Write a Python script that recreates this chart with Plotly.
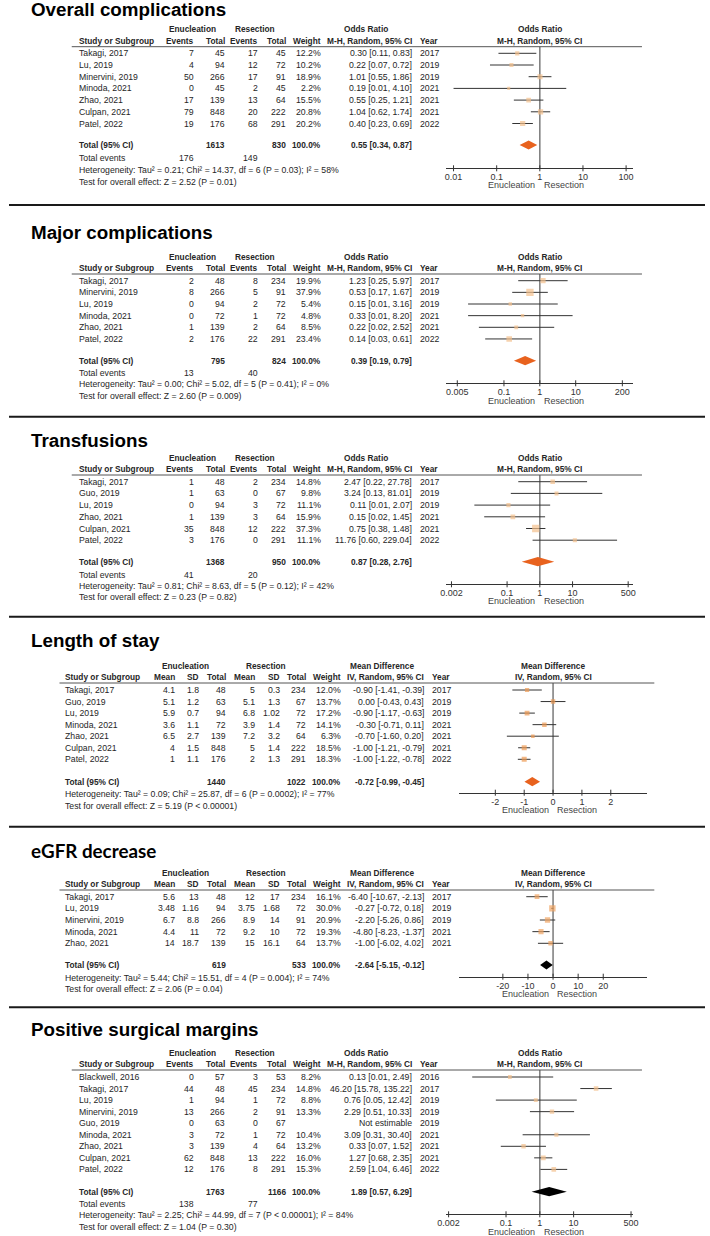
import math
import plotly.graph_objects as go

W, H = 710, 1236
FONT = "Liberation Sans, Arial, sans-serif"

# ---------------- DATA ----------------
# Panel 1: Overall complications (Odds Ratio)
oc_study = ["Takagi, 2017", "Lu, 2019", "Minervini, 2019", "Minoda, 2021", "Zhao, 2021", "Culpan, 2021", "Patel, 2022"]
oc_enu_events = [7, 4, 50, 0, 17, 79, 19]
oc_enu_total = [45, 94, 266, 45, 139, 848, 176]
oc_res_events = [17, 12, 17, 2, 13, 20, 68]
oc_res_total = [45, 72, 91, 45, 64, 222, 291]
oc_weight = [12.2, 10.2, 18.9, 2.2, 15.5, 20.8, 20.2]
oc_est = [0.30, 0.22, 1.01, 0.19, 0.55, 1.04, 0.40]
oc_lo = [0.11, 0.07, 0.55, 0.01, 0.25, 0.62, 0.23]
oc_hi = [0.83, 0.72, 1.86, 4.10, 1.21, 1.74, 0.69]
oc_year = [2017, 2019, 2019, 2021, 2021, 2021, 2022]
oc_total = [1613, 830]
oc_events_sum = [176, 149]
oc_pooled = [0.55, 0.34, 0.87]
oc_het = "Heterogeneity: Tau² = 0.21; Chi² = 14.37, df = 6 (P = 0.03); I² = 58%"
oc_test = "Test for overall effect: Z = 2.52 (P = 0.01)"
oc_ticks = [0.01, 0.1, 1, 10, 100]
oc_ticklabels = ["0.01", "0.1", "1", "10", "100"]

# Panel 2: Major complications
mc_study = ["Takagi, 2017", "Minervini, 2019", "Lu, 2019", "Minoda, 2021", "Zhao, 2021", "Patel, 2022"]
mc_enu_events = [2, 8, 0, 0, 1, 2]
mc_enu_total = [48, 266, 94, 72, 139, 176]
mc_res_events = [8, 5, 2, 1, 2, 22]
mc_res_total = [234, 91, 72, 72, 64, 291]
mc_weight = [19.9, 37.9, 5.4, 4.8, 8.5, 23.4]
mc_est = [1.23, 0.53, 0.15, 0.33, 0.22, 0.14]
mc_lo = [0.25, 0.17, 0.01, 0.01, 0.02, 0.03]
mc_hi = [5.97, 1.67, 3.16, 8.20, 2.52, 0.61]
mc_year = [2017, 2019, 2019, 2021, 2021, 2022]
mc_total = [795, 824]
mc_events_sum = [13, 40]
mc_pooled = [0.39, 0.19, 0.79]
mc_het = "Heterogeneity: Tau² = 0.00; Chi² = 5.02, df = 5 (P = 0.41); I² = 0%"
mc_test = "Test for overall effect: Z = 2.60 (P = 0.009)"
mc_ticks = [0.005, 0.1, 1, 10, 200]
mc_ticklabels = ["0.005", "0.1", "1", "10", "200"]

# Panel 3: Transfusions
tr_study = ["Takagi, 2017", "Guo, 2019", "Lu, 2019", "Zhao, 2021", "Culpan, 2021", "Patel, 2022"]
tr_enu_events = [1, 1, 0, 1, 35, 3]
tr_enu_total = [48, 63, 94, 139, 848, 176]
tr_res_events = [2, 0, 3, 3, 12, 0]
tr_res_total = [234, 67, 72, 64, 222, 291]
tr_weight = [14.8, 9.8, 11.1, 15.9, 37.3, 11.1]
tr_est = [2.47, 3.24, 0.11, 0.15, 0.75, 11.76]
tr_lo = [0.22, 0.13, 0.01, 0.02, 0.38, 0.60]
tr_hi = [27.78, 81.01, 2.07, 1.45, 1.48, 229.04]
tr_year = [2017, 2019, 2019, 2021, 2021, 2022]
tr_total = [1368, 950]
tr_events_sum = [41, 20]
tr_pooled = [0.87, 0.28, 2.76]
tr_het = "Heterogeneity: Tau² = 0.81; Chi² = 8.63, df = 5 (P = 0.12); I² = 42%"
tr_test = "Test for overall effect: Z = 0.23 (P = 0.82)"
tr_ticks = [0.002, 0.1, 1, 10, 500]
tr_ticklabels = ["0.002", "0.1", "1", "10", "500"]

# Panel 4: Length of stay (Mean Difference)
los_study = ["Takagi, 2017", "Guo, 2019", "Lu, 2019", "Minoda, 2021", "Zhao, 2021", "Culpan, 2021", "Patel, 2022"]
los_enu_mean = [4.1, 5.1, 5.9, 3.6, 6.5, 4, 1]
los_enu_sd = [1.8, 1.2, 0.7, 1.1, 2.7, 1.5, 1.1]
los_enu_total = [48, 63, 94, 72, 139, 848, 176]
los_res_mean = [5, 5.1, 6.8, 3.9, 7.2, 5, 2]
los_res_sd = [0.3, 1.3, 1.02, 1.4, 3.2, 1.4, 1.3]
los_res_total = [234, 67, 72, 72, 64, 222, 291]
los_weight = [12.0, 13.7, 17.2, 14.1, 6.3, 18.5, 18.3]
los_est = [-0.90, 0.00, -0.90, -0.30, -0.70, -1.00, -1.00]
los_lo = [-1.41, -0.43, -1.17, -0.71, -1.60, -1.21, -1.22]
los_hi = [-0.39, 0.43, -0.63, 0.11, 0.20, -0.79, -0.78]
los_year = [2017, 2019, 2019, 2021, 2021, 2021, 2022]
los_total = [1440, 1022]
los_pooled = [-0.72, -0.99, -0.45]
los_het = "Heterogeneity: Tau² = 0.09; Chi² = 25.87, df = 6 (P = 0.0002); I² = 77%"
los_test = "Test for overall effect: Z = 5.19 (P < 0.00001)"
los_ticks = [-2, -1, 0, 1, 2]
los_ticklabels = ["-2", "-1", "0", "1", "2"]

# Panel 5: eGFR decrease
eg_study = ["Takagi, 2017", "Lu, 2019", "Minervini, 2019", "Minoda, 2021", "Zhao, 2021"]
eg_enu_mean = [5.6, 3.48, 6.7, 4.4, 14]
eg_enu_sd = [13, 1.16, 8.8, 11, 18.7]
eg_enu_total = [48, 94, 266, 72, 139]
eg_res_mean = [12, 3.75, 8.9, 9.2, 15]
eg_res_sd = [17, 1.68, 14, 10, 16.1]
eg_res_total = [234, 72, 91, 72, 64]
eg_weight = [16.1, 30.0, 20.9, 19.3, 13.7]
eg_est = [-6.40, -0.27, -2.20, -4.80, -1.00]
eg_lo = [-10.67, -0.72, -5.26, -8.23, -6.02]
eg_hi = [-2.13, 0.18, 0.86, -1.37, 4.02]
eg_year = [2017, 2019, 2019, 2021, 2021]
eg_total = [619, 533]
eg_pooled = [-2.64, -5.15, -0.12]
eg_het = "Heterogeneity: Tau² = 5.44; Chi² = 15.51, df = 4 (P = 0.004); I² = 74%"
eg_test = "Test for overall effect: Z = 2.06 (P = 0.04)"
eg_ticks = [-20, -10, 0, 10, 20]
eg_ticklabels = ["-20", "-10", "0", "10", "20"]

# Panel 6: Positive surgical margins
psm_study = ["Blackwell, 2016", "Takagi, 2017", "Lu, 2019", "Minervini, 2019", "Guo, 2019", "Minoda, 2021", "Zhao, 2021", "Culpan, 2021", "Patel, 2022"]
psm_enu_events = [0, 44, 1, 13, 0, 3, 3, 62, 12]
psm_enu_total = [57, 48, 94, 266, 63, 72, 139, 848, 176]
psm_res_events = [3, 45, 1, 2, 0, 1, 4, 13, 8]
psm_res_total = [53, 234, 72, 91, 67, 72, 64, 222, 291]
psm_weight = [8.2, 14.8, 8.8, 13.3, None, 10.4, 13.2, 16.0, 15.3]
psm_est = [0.13, 46.20, 0.76, 2.29, None, 3.09, 0.33, 1.27, 2.59]
psm_lo = [0.01, 15.78, 0.05, 0.51, None, 0.31, 0.07, 0.68, 1.04]
psm_hi = [2.49, 135.22, 12.42, 10.33, None, 30.40, 1.52, 2.35, 6.46]
psm_year = [2016, 2017, 2019, 2019, 2019, 2021, 2021, 2021, 2022]
psm_total = [1763, 1166]
psm_events_sum = [138, 77]
psm_pooled = [1.89, 0.57, 6.29]
psm_het = "Heterogeneity: Tau² = 2.25; Chi² = 44.99, df = 7 (P < 0.00001); I² = 84%"
psm_test = "Test for overall effect: Z = 1.04 (P = 0.30)"
psm_ticks = [0.002, 0.1, 1, 10, 500]
psm_ticklabels = ["0.002", "0.1", "1", "10", "500"]

# ---------------- STYLE / LAYOUT (pixels) ----------------
ORANGE_LIGHT = "#F3C18D"
ORANGE_MID = "#EE9A52"
ORANGE_DIAMOND = "#E8621E"
TXT = "#262626"
FS = 8.7      # regular table text
FSB = 8.3     # bold table text

panels = [
    dict(kind="or", title="Overall complications", study=oc_study,
         cols=[oc_enu_events, oc_enu_total, oc_res_events, oc_res_total],
         weight=oc_weight, est=oc_est, lo=oc_lo, hi=oc_hi, year=oc_year,
         total=oc_total, events=oc_events_sum, pooled=oc_pooled, het=oc_het, test=oc_test,
         ticks=oc_ticks, ticklabels=oc_ticklabels, half=2.17,
         y_title=10, y_h1=29.3, y_h2=41, y_hline=46.7, y_row0=53.3, step=11.7,
         y_total=145, y_events=158.3, y_het=170, y_test=182, y_axis=168.3,
         sq=ORANGE_LIGHT, dia=ORANGE_DIAMOND),
    dict(kind="or", title="Major complications", study=mc_study,
         cols=[mc_enu_events, mc_enu_total, mc_res_events, mc_res_total],
         weight=mc_weight, est=mc_est, lo=mc_lo, hi=mc_hi, year=mc_year,
         total=mc_total, events=mc_events_sum, pooled=mc_pooled, het=mc_het, test=mc_test,
         ticks=mc_ticks, ticklabels=mc_ticklabels, half=2.61,
         y_title=232.3, y_h1=256.7, y_h2=268.3, y_hline=274, y_row0=280.7, step=11.65,
         y_total=360.7, y_events=373.3, y_het=384.3, y_test=396, y_axis=383.3,
         sq=ORANGE_LIGHT, dia=ORANGE_DIAMOND),
    dict(kind="or", title="Transfusions", study=tr_study,
         cols=[tr_enu_events, tr_enu_total, tr_res_events, tr_res_total],
         weight=tr_weight, est=tr_est, lo=tr_lo, hi=tr_hi, year=tr_year,
         total=tr_total, events=tr_events_sum, pooled=tr_pooled, het=tr_het, test=tr_test,
         ticks=tr_ticks, ticklabels=tr_ticklabels, half=2.86,
         y_title=440.7, y_h1=457.7, y_h2=469.3, y_hline=475, y_row0=481.7, step=11.7,
         y_total=561.7, y_events=574.7, y_het=585.7, y_test=596.7, y_axis=584.3,
         sq=ORANGE_LIGHT, dia=ORANGE_DIAMOND),
    dict(kind="md", title="Length of stay", study=los_study,
         cols=[los_enu_mean, los_enu_sd, los_enu_total, los_res_mean, los_res_sd, los_res_total],
         weight=los_weight, est=los_est, lo=los_lo, hi=los_hi, year=los_year,
         total=los_total, events=None, pooled=los_pooled, het=los_het, test=los_test,
         ticks=los_ticks, ticklabels=los_ticklabels, half=3.26,
         y_title=640, y_h1=665.7, y_h2=677.3, y_hline=683, y_row0=690, step=11.55,
         y_total=781.7, y_events=None, y_het=794.3, y_test=806, y_axis=792.7,
         sq=ORANGE_MID, dia=ORANGE_DIAMOND),
    dict(kind="md", title="eGFR decrease", study=eg_study,
         cols=[eg_enu_mean, eg_enu_sd, eg_enu_total, eg_res_mean, eg_res_sd, eg_res_total],
         weight=eg_weight, est=eg_est, lo=eg_lo, hi=eg_hi, year=eg_year,
         total=eg_total, events=None, pooled=eg_pooled, het=eg_het, test=eg_test,
         ticks=eg_ticks, ticklabels=eg_ticklabels, half=37.5,
         y_title=850, y_h1=872.7, y_h2=884.3, y_hline=890, y_row0=896.7, step=11.65,
         y_total=965, y_events=None, y_het=978.3, y_test=989.3, y_axis=976.7,
         sq="#F0A463", dia="#000000", title_font="Lato, Noto Sans, sans-serif"),
    dict(kind="or", title="Positive surgical margins", study=psm_study,
         cols=[psm_enu_events, psm_enu_total, psm_res_events, psm_res_total],
         weight=psm_weight, est=psm_est, lo=psm_lo, hi=psm_hi, year=psm_year,
         total=psm_total, events=psm_events_sum, pooled=psm_pooled, het=psm_het, test=psm_test,
         ticks=psm_ticks, ticklabels=psm_ticklabels, half=2.77,
         y_title=1029, y_h1=1052.7, y_h2=1064, y_hline=1070, y_row0=1077, step=11.55,
         y_total=1191.7, y_events=1204.3, y_het=1215.3, y_test=1226.7, y_axis=1214.3,
         sq=ORANGE_LIGHT, dia="#000000"),
]

separators = [205, 416.7, 616.7, 826.7, 1007.3]

LAYOUT_OR = dict(study=71.7, cols=[188.7, 220, 254.3, 282.3], weight=318.3, ci=411, year=419,
                 grp=[186.7, 251.2], eff_h1=364, line=(64, 645.7), dom=(446, 637),
                 colnames=["Events", "Total", "Events", "Total"], h1="Odds Ratio",
                 h2="M-H, Random, 95% CI")
LAYOUT_MD = dict(study=57.5, cols=[169, 194.3, 221, 250.7, 276, 303.3], weight=338.7, ci=423.3,
                 year=431.7, grp=[180.5, 262], eff_h1=380.5, line=(51.5, 658.3), dom=(459, 651),
                 colnames=["Mean", "SD", "Total", "Mean", "SD", "Total"], h1="Mean Difference",
                 h2="IV, Random, 95% CI")

annotations = []
shapes = []


def px(x):
    return x / W


def py(y):
    return 1 - y / H


def txt(x, y, s, anchor="left", bold=False, size=None, color=TXT, family=FONT):
    if size is None:
        size = FSB if bold else FS
    annotations.append(dict(
        x=px(x), y=py(y), xref="paper", yref="paper",
        text=("<b>%s</b>" % s) if bold else s, showarrow=False,
        xanchor=anchor, yanchor="middle", borderpad=0, borderwidth=0,
        font=dict(size=size, color=color, family=family)))


def fmt(v):
    return "%g" % v


fig = go.Figure()
layout_axes = {}

for i, p in enumerate(panels):
    L = LAYOUT_OR if p["kind"] == "or" else LAYOUT_MD
    axname = "x" if i == 0 else "x%d" % (i + 1)
    axkey = "xaxis" if i == 0 else "xaxis%d" % (i + 1)
    is_log = p["kind"] == "or"
    null_val = 1 if is_log else 0
    null_px = (L["dom"][0] + L["dom"][1]) / 2

    # title
    txt(22.5, p["y_title"], p["title"], bold=True, size=18.8,
        color="#000000", family=p.get("title_font", FONT))

    # headers
    txt(L["grp"][0], p["y_h1"], "Enucleation", anchor="center", bold=True)
    txt(L["grp"][1], p["y_h1"], "Resection", anchor="center", bold=True)
    txt(L["eff_h1"], p["y_h1"], L["h1"], anchor="center", bold=True)
    txt(null_px, p["y_h1"], L["h1"], anchor="center", bold=True)
    txt(L["study"], p["y_h2"], "Study or Subgroup", bold=True)
    for cx, cn in zip(L["cols"], L["colnames"]):
        txt(cx, p["y_h2"], cn, anchor="right", bold=True)
    txt(L["weight"], p["y_h2"], "Weight", anchor="right", bold=True)
    txt(L["ci"], p["y_h2"], L["h2"], anchor="right", bold=True)
    txt(L["year"], p["y_h2"], "Year", bold=True)
    txt(null_px, p["y_h2"], L["h2"], anchor="center", bold=True)
    shapes.append(dict(type="line", xref="paper", yref="paper",
                       x0=px(L["line"][0]), x1=px(L["line"][1]),
                       y0=py(p["y_hline"]), y1=py(p["y_hline"]),
                       line=dict(color="#555555", width=1)))

    # study rows
    ys = []
    for r, name in enumerate(p["study"]):
        y = p["y_row0"] + r * p["step"]
        ys.append(y)
        txt(L["study"], y, name)
        for cx, col in zip(L["cols"], p["cols"]):
            txt(cx, y, fmt(col[r]), anchor="right")
        w = p["weight"][r]
        if w is not None:
            txt(L["weight"], y, "%.1f%%" % w, anchor="right")
            txt(L["ci"], y, "%.2f [%.2f, %.2f]" % (p["est"][r], p["lo"][r], p["hi"][r]), anchor="right")
        else:
            txt(L["ci"], y, "Not estimable", anchor="right")
        txt(L["year"], y, str(p["year"][r]))

    # totals
    txt(L["study"], p["y_total"], "Total (95% CI)", bold=True)
    tot_cols = [L["cols"][1], L["cols"][3]] if p["kind"] == "or" else [L["cols"][2], L["cols"][5]]
    txt(tot_cols[0], p["y_total"], str(p["total"][0]), anchor="right", bold=True)
    txt(tot_cols[1], p["y_total"], str(p["total"][1]), anchor="right", bold=True)
    txt(L["weight"], p["y_total"], "100.0%", anchor="right", bold=True)
    pe, pl, ph = p["pooled"]
    txt(L["ci"], p["y_total"], "%.2f [%.2f, %.2f]" % (pe, pl, ph), anchor="right", bold=True)
    if p["events"] is not None:
        txt(L["study"], p["y_events"], "Total events")
        txt(L["cols"][0], p["y_events"], str(p["events"][0]), anchor="right")
        txt(L["cols"][2], p["y_events"], str(p["events"][1]), anchor="right")
    txt(L["study"], p["y_het"], p["het"])
    txt(L["study"], p["y_test"], p["test"])

    # favours labels
    txt(null_px - 4.5, p["y_axis"] + 17.2, "Enucleation", anchor="right", size=9, color="#444444")
    txt(null_px + 4, p["y_axis"] + 17.2, "Resection", anchor="left", size=9, color="#444444")

    # forest traces
    fig.add_trace(go.Scatter(x=[null_val, null_val], y=[p["y_hline"], p["y_axis"]], mode="lines",
                             line=dict(color="#7a7a7a", width=1.5), xaxis=axname, yaxis="y",
                             hoverinfo="skip", showlegend=False))
    # tick marks crossing the axis line (RevMan style)
    tx, ty = [], []
    for t in p["ticks"]:
        tx += [t, t, None]
        ty += [p["y_axis"] - 3, p["y_axis"] + 3, None]
    fig.add_trace(go.Scatter(x=tx, y=ty, mode="lines", line=dict(color="#333333", width=1),
                             xaxis=axname, yaxis="y", hoverinfo="skip", showlegend=False,
                             cliponaxis=False))
    lx, ly, mx, my, ms = [], [], [], [], []
    for r in range(len(p["study"])):
        if p["est"][r] is None:
            continue
        lx += [p["lo"][r], p["hi"][r], None]
        ly += [ys[r], ys[r], None]
        mx.append(p["est"][r])
        my.append(ys[r])
        ms.append(2.8 + 0.12 * p["weight"][r])
    fig.add_trace(go.Scatter(x=lx, y=ly, mode="lines", line=dict(color="#333333", width=1),
                             xaxis=axname, yaxis="y", hoverinfo="skip", showlegend=False))
    fig.add_trace(go.Scatter(x=mx, y=my, mode="markers",
                             marker=dict(symbol="square", size=ms, color=p["sq"], line=dict(width=0)),
                             xaxis=axname, yaxis="y", showlegend=False))
    hdia = 4.6
    yt = p["y_total"]
    fig.add_trace(go.Scatter(x=[pl, pe, ph, pe, pl], y=[yt, yt - hdia, yt, yt + hdia, yt],
                             mode="lines", fill="toself", fillcolor=p["dia"],
                             line=dict(width=0, color=p["dia"]),
                             xaxis=axname, yaxis="y", hoverinfo="skip", showlegend=False))

    if is_log:
        c = math.log10(null_val)
        rng = [c - p["half"], c + p["half"]]
    else:
        rng = [-p["half"], p["half"]]
    layout_axes[axkey] = dict(
        domain=[px(L["dom"][0]), px(L["dom"][1])], anchor="free", position=py(p["y_axis"]),
        type="log" if is_log else "linear", range=rng,
        tickvals=p["ticks"], ticktext=p["ticklabels"],
        showline=True, linecolor="#333333", linewidth=1,
        ticks="", ticklabelstandoff=0,
        showgrid=False, zeroline=False, fixedrange=True,
        tickfont=dict(size=9, color="#333333", family=FONT))

for s in separators:
    shapes.append(dict(type="line", xref="paper", yref="paper", x0=0, x1=1, y0=py(s), y1=py(s),
                       line=dict(color="#1a1a1a", width=2)))

fig.update_layout(
    width=W, height=H, autosize=False,
    margin=dict(l=0, r=0, t=0, b=0, pad=0),
    paper_bgcolor="white", plot_bgcolor="rgba(0,0,0,0)",
    yaxis=dict(domain=[0, 1], range=[H, 0], visible=False, fixedrange=True),
    annotations=annotations, shapes=shapes, showlegend=False,
    **layout_axes)

fig.write_html("out.html", config={"displayModeBar": False},
               post_script="document.body.style.margin='0';document.body.style.overflow='hidden';")
